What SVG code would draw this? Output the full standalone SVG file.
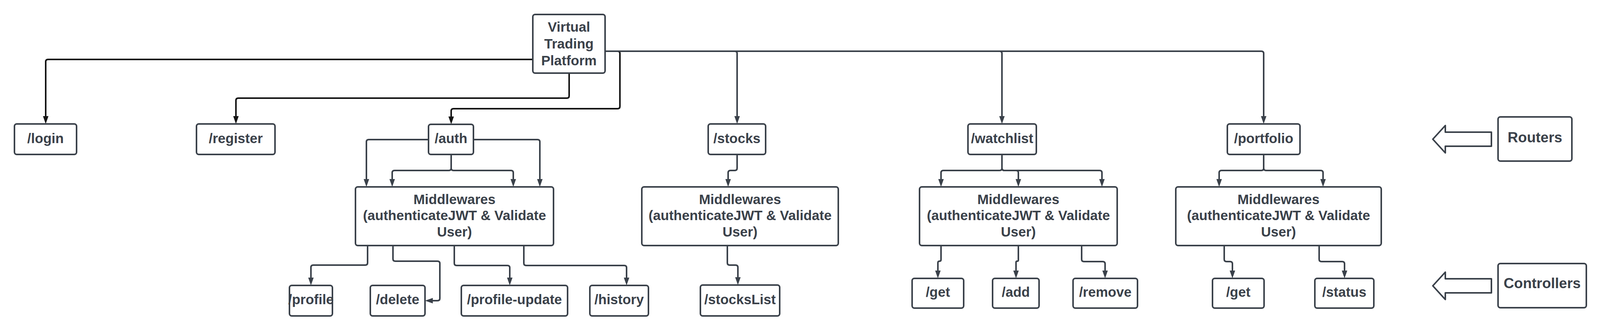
<svg xmlns="http://www.w3.org/2000/svg" width="4098" height="844" viewBox="0 0 4098 844">
<style>
  .box { fill: #ffffff; stroke: #3a414a; stroke-width: 4; }
  .t { font-family: "Liberation Sans", Arial, sans-serif; font-weight: bold; font-size: 35px; fill: #3a414a; text-anchor: middle; }
  .lg { font-size: 37px; }
  .c { fill: none; stroke: #3a414a; stroke-width: 4; marker-end: url(#ag); }
  .k { fill: none; stroke: #141414; stroke-width: 4; marker-end: url(#ak); }
  .blk { fill: #ffffff; stroke: #3a414a; stroke-width: 4; stroke-linejoin: round; }
</style>
<defs>
  <marker id="ag" markerUnits="userSpaceOnUse" markerWidth="20" markerHeight="14" refX="6" refY="7" orient="auto">
    <path d="M0,0 L20,7 L0,14 z" fill="#3a414a"/>
  </marker>
  <marker id="ak" markerUnits="userSpaceOnUse" markerWidth="20" markerHeight="14" refX="6" refY="7" orient="auto">
    <path d="M0,0 L20,7 L0,14 z" fill="#141414"/>
  </marker>
</defs>
<rect width="4098" height="844" fill="#ffffff"/>

<g id="connectors">
  <path class="k" d="M1364,152 H123 Q117,152 117,158 V303"/>
  <path class="k" d="M1457,187 V245 Q1457,251 1451,251 H610 Q604,251 604,257 V303"/>
  <path class="k" d="M1549,131 H1581 Q1587,131 1587,137 V272 Q1587,278 1581,278 H1161 Q1155,278 1155,284 V304"/>
  <path class="c" d="M1549,131 H1881 Q1887,131 1887,137 V303"/>
  <path class="c" d="M1549,131 H2559 Q2565,131 2565,137 V303"/>
  <path class="c" d="M1549,131 H3229 Q3235,131 3235,137 V303"/>

  <path class="c" d="M1097,357 H944 Q938,357 938,363 V464"/>
  <path class="c" d="M1212,357 H1376 Q1382,357 1382,363 V464"/>
  <path class="c" d="M1155,395 V430 Q1155,436 1149,436 H1010 Q1004,436 1004,442 V464"/>
  <path class="c" d="M1155,395 V430 Q1155,436 1161,436 H1308 Q1314,436 1314,442 V464"/>
  <path class="c" d="M941,628 V672 Q941,678 935,678 H802 Q796,678 796,684 V716"/>
  <path class="c" d="M1006,628 V662 Q1006,668 1012,668 H1120 Q1126,668 1126,674 V763 Q1126,769 1120,769 H1102"/>
  <path class="c" d="M1163,628 V673 Q1163,679 1169,679 H1299 Q1305,679 1305,685 V716"/>
  <path class="c" d="M1341,628 V673 Q1341,679 1347,679 H1598 Q1604,679 1604,685 V716"/>

  <path class="c" d="M1887,395 V430 Q1887,436 1881,436 H1870 Q1864,436 1864,442 V464"/>
  <path class="c" d="M1862,628 V672 Q1862,678 1868,678 H1883 Q1889,678 1889,684 V715"/>

  <path class="c" d="M2565,395 V430 Q2565,436 2559,436 H2415 Q2409,436 2409,442 V464"/>
  <path class="c" d="M2565,395 V430 Q2565,436 2571,436 H2601 Q2607,436 2607,442 V464"/>
  <path class="c" d="M2565,395 V430 Q2565,436 2571,436 H2815 Q2821,436 2821,442 V464"/>
  <path class="c" d="M2409,628 V664 Q2409,668 2405,668 Q2401,668 2401,672 V698"/>
  <path class="c" d="M2607,628 V665 Q2607,668 2604,668 Q2601,668 2601,671 V698"/>
  <path class="c" d="M2769,628 V663 Q2769,669 2775,669 H2823 Q2829,669 2829,675 V698"/>

  <path class="c" d="M3235,395 V430 Q3235,436 3229,436 H3127 Q3121,436 3121,442 V464"/>
  <path class="c" d="M3235,395 V430 Q3235,436 3241,436 H3381 Q3387,436 3387,442 V464"/>
  <path class="c" d="M3134,628 V663 Q3134,669 3140,669 H3149 Q3155,669 3155,675 V698"/>
  <path class="c" d="M3377,628 V663 Q3377,669 3383,669 H3436 Q3442,669 3442,675 V698"/>
</g>

<g id="vtp">
  <rect class="box" x="1364" y="37" width="185" height="150" rx="6"/>
  <text class="t" x="1456.5" y="81">Virtual</text>
  <text class="t" x="1456.5" y="124">Trading</text>
  <text class="t" x="1456.5" y="167">Platform</text>
</g>
<g id="login"><rect class="box" x="37" y="317" width="159" height="78" rx="6"/><text class="t" x="116.5" y="366">/login</text></g>
<g id="register"><rect class="box" x="503" y="317" width="201" height="78" rx="6"/><text class="t" x="603.5" y="366">/register</text></g>
<g id="auth"><rect class="box" x="1097" y="318" width="115" height="77" rx="6"/><text class="t" x="1154.5" y="366">/auth</text></g>
<g id="stocks"><rect class="box" x="1813" y="317" width="147" height="78" rx="6"/><text class="t" x="1886.5" y="366">/stocks</text></g>
<g id="watchlist"><rect class="box" x="2478" y="317" width="175" height="78" rx="6"/><text class="t" x="2565.5" y="366">/watchlist</text></g>
<g id="portfolio"><rect class="box" x="3142" y="317" width="186" height="78" rx="6"/><text class="t" x="3235" y="366">/portfolio</text></g>

<g id="mw-auth">
  <rect class="box" x="910" y="478" width="507" height="150" rx="6"/>
  <text class="t" x="1163.5" y="522">Middlewares</text>
  <text class="t" x="1163.5" y="563">(authenticateJWT &amp; Validate</text>
  <text class="t" x="1163.5" y="605">User)</text>
</g>
<g id="mw-stocks">
  <rect class="box" x="1643" y="478" width="503" height="150" rx="6"/>
  <text class="t" x="1894.5" y="522">Middlewares</text>
  <text class="t" x="1894.5" y="563">(authenticateJWT &amp; Validate</text>
  <text class="t" x="1894.5" y="605">User)</text>
</g>
<g id="mw-watchlist">
  <rect class="box" x="2354" y="478" width="506" height="150" rx="6"/>
  <text class="t" x="2607" y="522">Middlewares</text>
  <text class="t" x="2607" y="563">(authenticateJWT &amp; Validate</text>
  <text class="t" x="2607" y="605">User)</text>
</g>
<g id="mw-portfolio">
  <rect class="box" x="3010" y="478" width="526" height="150" rx="6"/>
  <text class="t" x="3273" y="522">Middlewares</text>
  <text class="t" x="3273" y="563">(authenticateJWT &amp; Validate</text>
  <text class="t" x="3273" y="605">User)</text>
</g>

<g id="profile"><rect class="box" x="741" y="730" width="110" height="78" rx="6"/><text class="t" x="796" y="778">/profile</text></g>
<g id="delete"><rect class="box" x="948" y="730" width="140" height="78" rx="6"/><text class="t" x="1018" y="778">/delete</text></g>
<g id="profile-update"><rect class="box" x="1181" y="730" width="272" height="78" rx="6"/><text class="t" x="1317" y="778">/profile-update</text></g>
<g id="history"><rect class="box" x="1510" y="730" width="150" height="78" rx="6"/><text class="t" x="1585" y="778">/history</text></g>
<g id="stocksList"><rect class="box" x="1793" y="729" width="203" height="79" rx="6"/><text class="t" x="1894.5" y="778">/stocksList</text></g>

<g id="watchlist-get"><rect class="box" x="2335" y="712" width="132" height="76" rx="6"/><text class="t" x="2401" y="759">/get</text></g>
<g id="watchlist-add"><rect class="box" x="2541" y="712" width="119" height="76" rx="6"/><text class="t" x="2600.5" y="759">/add</text></g>
<g id="watchlist-remove"><rect class="box" x="2747" y="712" width="165" height="76" rx="6"/><text class="t" x="2829.5" y="759">/remove</text></g>
<g id="portfolio-get"><rect class="box" x="3104" y="712" width="132" height="76" rx="6"/><text class="t" x="3170" y="759">/get</text></g>
<g id="portfolio-status"><rect class="box" x="3366" y="712" width="151" height="76" rx="6"/><text class="t" x="3441.5" y="759">/status</text></g>

<g id="legend-routers">
  <polygon class="blk" points="3668,356 3700,321 3700,338 3818,338 3818,374 3700,374 3700,391"/>
  <rect class="box" x="3835" y="299" width="189" height="113" rx="6"/>
  <text class="t lg" x="3929.5" y="364">Routers</text>
</g>
<g id="legend-controllers">
  <polygon class="blk" points="3668,731 3700,696 3700,713 3818,713 3818,749 3700,749 3700,766"/>
  <rect class="box" x="3835" y="674" width="226" height="113" rx="6"/>
  <text class="t lg" x="3948" y="737">Controllers</text>
</g>
</svg>
